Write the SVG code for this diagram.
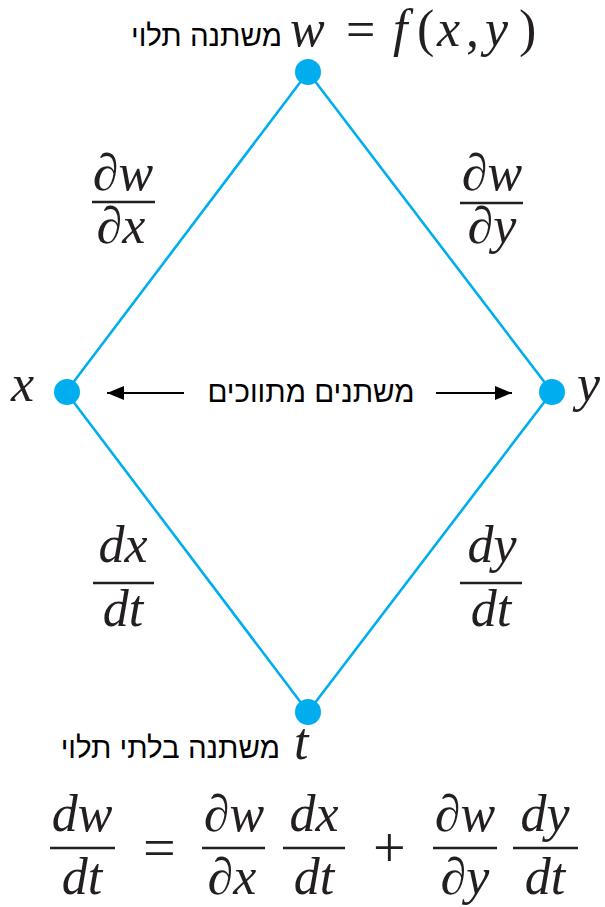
<svg xmlns="http://www.w3.org/2000/svg" width="605" height="907" viewBox="0 0 605 907">
<defs>
<style>
.edge{stroke:#00AEEF;stroke-width:2.6;fill:none}
.dot{fill:#00AEEF}
.m{font-family:"Liberation Serif","Times New Roman",serif;font-style:italic;font-size:52px;fill:#231F20}
.r{font-family:"Liberation Serif","Times New Roman",serif;font-style:normal;font-size:52px;fill:#231F20}
.op{font-family:"Liberation Serif","Times New Roman",serif;font-style:normal;font-size:58px;fill:#231F20}
.fc{text-anchor:middle}
.bar{stroke:#231F20;stroke-width:2.6}
.heb{font-family:"Liberation Sans",Arial,sans-serif;font-size:29.5px;fill:#000}
.arr{stroke:#000;stroke-width:2;fill:none}
</style>
<marker id="ah" viewBox="0 0 17 14" refX="17" refY="7" markerWidth="17" markerHeight="14" markerUnits="userSpaceOnUse" orient="auto">
<polygon points="0,0 17,7 0,14" fill="#000"/>
</marker>
</defs>
<rect width="605" height="907" fill="#fff"/>
<g id="connectors">
<line class="edge" x1="308" y1="72" x2="66" y2="392"/>
<line class="edge" x1="308" y1="72" x2="552" y2="392"/>
<line class="edge" x1="66" y1="392" x2="308" y2="712"/>
<line class="edge" x1="552" y1="392" x2="308" y2="712"/>
<line class="arr" x1="184" y1="393" x2="107" y2="393" marker-end="url(#ah)"/>
<line class="arr" x1="436" y1="393" x2="512" y2="393" marker-end="url(#ah)"/>
</g>
<g id="node-w">
<circle class="dot" cx="308" cy="72" r="13"/>
<text class="heb" x="282" y="46" text-anchor="end">משתנה תלוי</text>
<text class="m" x="290" y="46">w</text>
<text class="r" x="346" y="47">=</text>
<text class="m" x="393" y="46">f</text>
<text class="r" x="417" y="46">(</text>
<text class="m" x="437" y="46">x</text>
<text class="r" x="466" y="46">,</text>
<text class="m" x="485" y="46">y</text>
<text class="r" x="519" y="46">)</text>
</g>
<g id="node-x">
<circle class="dot" cx="67" cy="392" r="13"/>
<text class="m" x="11" y="401">x</text>
</g>
<g id="node-y">
<circle class="dot" cx="552" cy="392" r="13"/>
<text class="m" x="577" y="401">y</text>
</g>
<g id="node-t">
<circle class="dot" cx="308" cy="712" r="13"/>
<text class="m" x="294" y="759">t</text>
<text class="heb" x="280" y="758" text-anchor="end">משתנה בלתי תלוי</text>
</g>
<g id="label-mid">
<text class="heb" x="311" y="402" text-anchor="middle">משתנים מתווכים</text>
</g>
<g id="label-dwdx">
<text class="m fc" x="123" y="190">∂w</text>
<line class="bar" x1="92" y1="202" x2="155" y2="202"/>
<text class="m fc" x="121" y="243">∂x</text>
</g>
<g id="label-dwdy">
<text class="m fc" x="492" y="190">∂w</text>
<line class="bar" x1="460" y1="203" x2="523" y2="203"/>
<text class="m fc" x="492" y="243">∂y</text>
</g>
<g id="label-dxdt">
<text class="m fc" x="123" y="562">dx</text>
<line class="bar" x1="93" y1="583" x2="154" y2="583"/>
<text class="m fc" x="123" y="626">dt</text>
</g>
<g id="label-dydt">
<text class="m fc" x="492" y="562">dy</text>
<line class="bar" x1="460" y1="583" x2="522" y2="583"/>
<text class="m fc" x="491" y="626">dt</text>
</g>
<g id="formula">
<text class="m fc" x="82" y="831">dw</text>
<line class="bar" x1="50" y1="848" x2="115" y2="848"/>
<text class="m fc" x="82" y="894">dt</text>
<text class="op" x="143" y="867">=</text>
<text class="m fc" x="234" y="831">∂w</text>
<line class="bar" x1="202" y1="848" x2="265" y2="848"/>
<text class="m fc" x="232" y="894">∂x</text>
<text class="m fc" x="314" y="831">dx</text>
<line class="bar" x1="283" y1="848" x2="345" y2="848"/>
<text class="m fc" x="314" y="894">dt</text>
<text class="op" x="373" y="867">+</text>
<text class="m fc" x="465" y="831">∂w</text>
<line class="bar" x1="433" y1="848" x2="497" y2="848"/>
<text class="m fc" x="465" y="894">∂y</text>
<text class="m fc" x="545" y="831">dy</text>
<line class="bar" x1="513" y1="848" x2="578" y2="848"/>
<text class="m fc" x="545" y="894">dt</text>
</g>
</svg>
